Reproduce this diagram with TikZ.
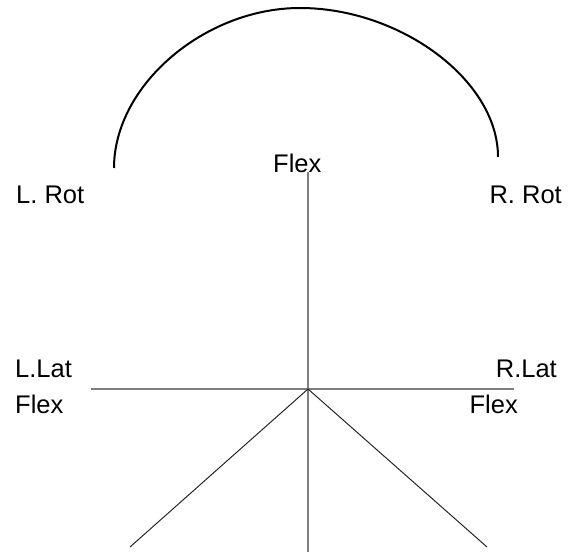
\documentclass[tikz,border=0pt]{standalone}
\usepackage{fontspec}
\setmainfont{Liberation Sans}
\usetikzlibrary{positioning}
\definecolor{cgrey}{HTML}{7F7F7F}
\definecolor{cdark}{HTML}{262626}

\begin{document}
\begin{tikzpicture}[x=1pt, y=-1pt,
  lbl/.style={inner sep=0pt, font=\fontsize{25.5}{30}\selectfont},
  axisline/.style={cgrey, line width=1.4pt},
  latline/.style={cgrey, line width=2pt},
  limbline/.style={cdark, line width=1pt},
  rotarc/.style={black, line width=2pt}]
\useasboundingbox (0,0) rectangle (577,554);

% Labels
\node[lbl, anchor=base west] (flex) at (273,172) {Flex};
\node[lbl, anchor=base west] (lrot) at (16,203) {L. Rot};
\node[lbl, anchor=base east] (rrot) at (562,203) {R. Rot};
\node[lbl, anchor=base west] (llat) at (15,377) {L.Lat};
\node[lbl, anchor=base west] (lflex) at (15,413) {Flex};
\node[lbl, anchor=base east] (rlat) at (557,377) {R.Lat};
\node[lbl, anchor=base east] (rflex) at (518,413) {Flex};

% Points of the figure
\coordinate (top) at (308,172);
\coordinate (hip) at (308,389);
\coordinate (foot) at (308,552);
\coordinate (latl) at (91,389);
\coordinate (latr) at (514,389);
\coordinate (legl) at (130,547);
\coordinate (legr) at (487,547);
\coordinate (arcl) at (114,168);
\coordinate (arcm) at (300,8);
\coordinate (arcr) at (498,157);

% Flexion axis and lateral axis
\draw[axisline] (top) -- (foot);
\draw[latline] (latl) -- (latr);

% Legs
\draw[limbline] (hip) -- (legl);
\draw[limbline] (hip) -- (legr);

% Rotation arc
\draw[rotarc] (arcl) .. controls (114,85) and (205,8) .. (arcm)
  .. controls (400,8) and (498,80) .. (arcr);

\end{tikzpicture}
\end{document}
